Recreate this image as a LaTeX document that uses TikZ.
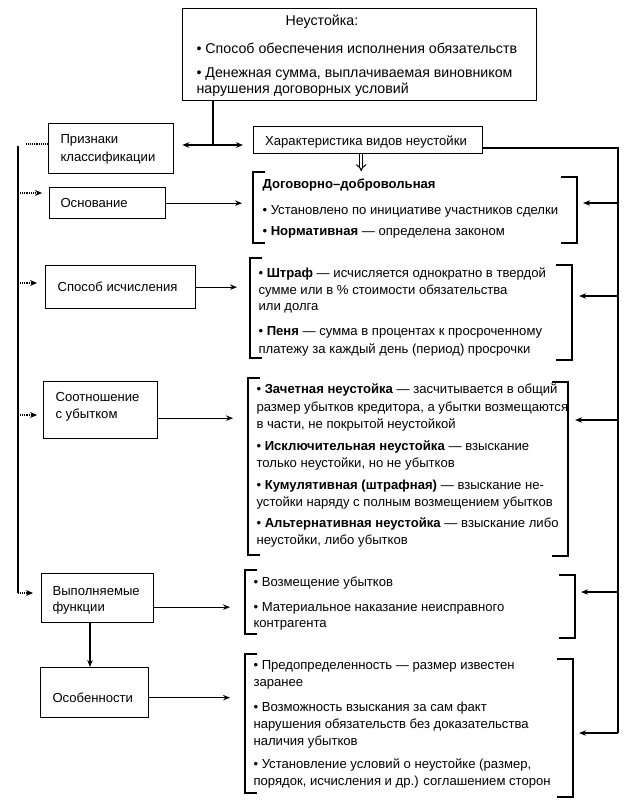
\documentclass[tikz,border=0pt]{standalone}
\usepackage{fontspec}
\setmainfont{Liberation Sans}
\usetikzlibrary{arrows.meta}
\newcommand\myfs{\fontsize{13.1pt}{15pt}\selectfont}
\newcommand\mytopfs{\fontsize{14.2pt}{16pt}\selectfont}
\begin{document}
\begin{tikzpicture}[x=1pt,y=-1pt,line width=1.1pt,
  box/.style={draw,line width=1.3pt,inner sep=0,anchor=north west},
  grp/.style={inner sep=0,anchor=north west},
  txt/.style={inner sep=0,anchor=base west,font=\myfs},
  txtc/.style={inner sep=0,anchor=base,font=\myfs},
  toptxt/.style={inner sep=0,anchor=base west,font=\mytopfs},
  arr/.style={-{Stealth[length=7pt,width=5.5pt]}},
  dotarr/.style={densely dotted,-{Stealth[length=7pt,width=6pt]}},
  brk/.style={line width=1.3pt}]
\useasboundingbox (0,0) rectangle (644,807);

% top box
\node[box,minimum width=354pt,minimum height=92pt] (top) at (182,8) {};
\node[toptxt,anchor=base] (t0) at (322,25) {Неустойка:};
\node[toptxt] (t1) at (196,53) {• Способ обеспечения исполнения обязательств};
\node[toptxt] (t2) at (196,77) {• Денежная сумма, выплачиваемая виновником};
\node[toptxt] (t3) at (196,93) {нарушения договорных условий};

% left boxes
\node[box,minimum width=125pt,minimum height=50pt] (prz) at (48,123) {};
\node[txt] at (60,143) {Признаки};
\node[txt] at (60,161) {классификации};
\node[box,minimum width=229pt,minimum height=27pt] (char) at (253,126) {};
\node[txtc] at (366,145) {Характеристика видов неустойки};

\node[box,minimum width=116pt,minimum height=31pt] (osn) at (49,187) {};
\node[txt] at (60,207) {Основание};
\node[box,minimum width=150pt,minimum height=43pt] (spo) at (45,265) {};
\node[txt] at (57,291) {Способ исчисления};
\node[box,minimum width=114pt,minimum height=57pt] (sot) at (43,381) {};
\node[txt] at (55,401) {Соотношение};
\node[txt] at (55,418) {с убытком};
\node[box,minimum width=112pt,minimum height=49pt] (vyp) at (41,573) {};
\node[txt] at (52,595) {Выполняемые};
\node[txt] at (52,611) {функции};
\node[box,minimum width=108pt,minimum height=50pt] (oso) at (40,667) {};
\node[txt] at (52,702) {Особенности};

% groups (invisible frames)
\node[grp,minimum width=324pt,minimum height=71pt] (g1) at (253,172) {};
\node[grp,minimum width=322pt,minimum height=102pt] (g2) at (250,258) {};
\node[grp,minimum width=320pt,minimum height=178pt] (g3) at (248,378) {};
\node[grp,minimum width=330pt,minimum height=68pt] (g4) at (245,570) {};
\node[grp,minimum width=328pt,minimum height=143pt] (g5) at (245,654) {};

% brackets
\draw[brk] (265,172) -- (253,172) -- (253,243) -- (265,243);
\draw[brk] (561,177) -- (577,177) -- (577,243) -- (561,243);
\draw[brk] (262,258) -- (250,258) -- (250,358) -- (262,358);
\draw[brk] (556,265) -- (572,265) -- (572,360) -- (556,360);
\draw[brk] (260,378) -- (248,378) -- (248,555) -- (260,555);
\draw[brk] (552,382) -- (568,382) -- (568,556) -- (552,556);
\draw[brk] (257,570) -- (245,570) -- (245,634) -- (257,634);
\draw[brk] (559,575) -- (575,575) -- (575,638) -- (559,638);
\draw[brk] (257,654) -- (245,654) -- (245,793) -- (257,793);
\draw[brk] (557,659) -- (573,659) -- (573,797) -- (557,797);

% group texts
\node[txt] at (262,188) {\textbf{Договорно–добровольная}};
\node[txt] at (262,214) {• Установлено по инициативе участников сделки};
\node[txt] at (262,235) {• \textbf{Нормативная} — определена законом};

\node[txt] at (258,277) {• \textbf{Штраф} — исчисляется однократно в твердой};
\node[txt] at (258,294) {сумме или в \% стоимости обязательства};
\node[txt] at (258,310) {или долга};
\node[txt] at (258,335) {• \textbf{Пеня} — сумма в процентах к просроченному};
\node[txt] at (258,353) {платежу за каждый день (период) просрочки};

\node[txt] at (256,393) {• \textbf{Зачетная неустойка} — засчитывается в общий};
\node[txt] at (256,411) {размер убытков кредитора, а убытки возмещаются};
\node[txt] at (256,428) {в части, не покрытой неустойкой};
\node[txt] at (256,450) {• \textbf{Исключительная неустойка} — взыскание};
\node[txt] at (256,467) {только неустойки, но не убытков};
\node[txt] at (256,489) {• \textbf{Кумулятивная (штрафная)} — взыскание не-};
\node[txt] at (256,506) {устойки наряду с полным возмещением убытков};
\node[txt] at (256,527) {• \textbf{Альтернативная неустойка} — взыскание либо};
\node[txt] at (256,544) {неустойки, либо убытков};

\node[txt] at (253,586) {• Возмещение убытков};
\node[txt] at (253,611) {• Материальное наказание неисправного};
\node[txt] at (253,627) {контрагента};

\node[txt] at (253,669) {• Предопределенность — размер известен};
\node[txt] at (253,686) {заранее};
\node[txt] at (253,711) {• Возможность взыскания за сам факт};
\node[txt] at (253,728) {нарушения обязательств без доказательства};
\node[txt] at (253,745) {наличия убытков};
\node[txt] at (253,768) {• Установление условий о неустойке (размер,};
\node[txt] at (253,785) {порядок, исчисления и др.) соглашением сторон};

% top connector and double arrow
\coordinate (tj) at (213,145);
\draw (top.south -| tj) -- (tj);
\draw[arr,shorten >=8pt] (tj) -- (tj -| prz.east);
\draw[arr,shorten >=10pt] (tj) -- (tj -| char.west);
\draw[double,double distance=2.6pt,line width=1pt,-{Implies}] ([xshift=-7pt]char.south) -- ++(0,17);

% right bus
\coordinate (cr) at (482,148);
\coordinate (b1) at (618,203);
\coordinate (b2) at (618,296);
\coordinate (b3) at (618,420);
\coordinate (b4) at (618,592);
\coordinate (b5) at (618,733);
\draw (cr) -| (b5);
\draw[arr,shorten >=5pt] (b1) -- (b1 -| g1.east);
\draw[arr,shorten >=6pt] (b2) -- (b2 -| g2.east);
\draw[arr,shorten >=6pt] (b3) -- (b3 -| g3.east);
\draw[arr,shorten >=5pt] (b4) -- (b4 -| g4.east);
\draw[arr,shorten >=5pt] (b5) -- (b5 -| g5.east);

% left bus
\coordinate (l0) at (18,146);
\coordinate (l1) at (18,193);
\coordinate (l2) at (18,283);
\coordinate (l3) at (18,415);
\coordinate (l4) at (18,593);
\draw[densely dotted] (prz.west |- 0,144) -- (26,144);
\draw (l0) -- (l4);
\draw[dotarr,shorten >=7pt] (l1) -- (l1 -| osn.west);
\draw[dotarr,shorten >=8pt] (l2) -- (l2 -| spo.west);
\draw[dotarr,shorten >=6pt] (l3) -- (l3 -| sot.west);
\draw[dotarr,shorten >=8pt] (l4) -- (l4 -| vyp.west);

% left boxes to groups
\draw[arr,shorten >=11pt] (osn.east) -- (osn.east -| g1.west);
\draw[arr,shorten >=13pt] (spo.east) -- (spo.east -| g2.west);
\draw[arr,shorten >=15pt] ([yshift=-8pt]sot.east) -- ([yshift=-8pt]sot.east -| g3.west);
\draw[arr,shorten >=15pt] ([yshift=-9pt]vyp.east) -- ([yshift=-9pt]vyp.east -| g4.west);
\draw[arr,shorten >=15pt] ([yshift=-5pt]oso.east) -- ([yshift=-5pt]oso.east -| g5.west);
\draw[arr] (vyp.south -| 90,0) -- (oso.north -| 90,0);
\end{tikzpicture}
\end{document}
